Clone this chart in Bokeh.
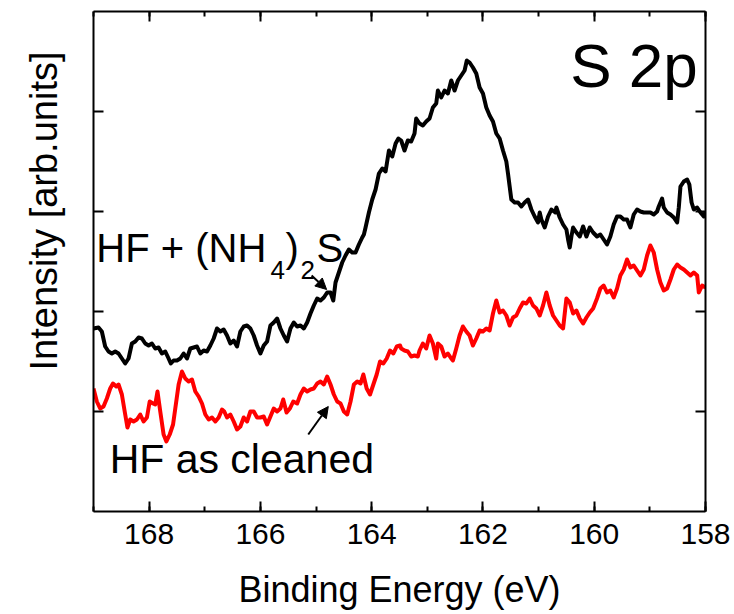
import math
from bokeh.plotting import figure
from bokeh.models import (Range1d, LinearAxis, SingleIntervalTicker, FixedTicker,
                          Label, Arrow, NormalHead, Title, CustomLabelingPolicy)
from bokeh.embed import file_html
from bokeh.resources import INLINE

# ---------------- data ----------------
black_ev = [169.00,168.91,168.85,168.79,168.73,168.67,168.61,168.55,168.49,168.43,
            168.37,168.31,168.25,168.19,168.13,168.07,168.01,167.95,167.89,167.83,
            167.77,167.71,167.65,167.61,167.56,167.50,167.44,167.38,167.32,167.26,
            167.20,167.14,167.08,167.02,166.96,166.90,166.84,166.78,166.72,166.66,
            166.60,166.54,166.48,166.42,166.36,166.30,166.24,166.18,166.12,166.06,
            166.00,165.94,165.88,165.82,165.76,165.70,165.64,165.58,165.52,165.46,
            165.40,165.34,165.28,165.22,165.16,165.10,165.04,164.98,164.92,164.86,
            164.80,164.74,164.69,164.65,164.59,164.53,164.47,164.41,164.35,164.29,
            164.23,164.17,164.14,164.11,164.05,163.99,163.93,163.87,163.81,163.75,
            163.69,163.63,163.57,163.52,
            163.47,163.41,163.35,163.29,163.23,163.20,163.14,163.08,163.02,162.96,
            162.90,162.84,162.81,162.75,162.69,162.63,162.57,162.51,162.45,162.39,
            162.33,162.29,162.24,162.18,162.12,162.06,162.00,161.94,161.88,161.82,
            161.76,161.70,161.64,161.58,161.55,161.52,161.49,161.43,161.37,161.31,
            161.25,161.19,161.13,161.07,161.01,160.98,160.95,160.89,160.83,160.77,
            160.70,160.68,160.62,160.56,160.50,160.47,160.44,160.41,160.38,160.32,
            160.26,160.20,160.14,160.08,160.02,159.95,159.89,159.83,159.77,159.71,
            159.65,159.59,159.53,159.47,159.41,159.35,159.29,159.23,159.17,159.11,
            159.05,158.99,158.93,158.87,158.84,158.78,158.75,158.69,158.63,158.57,
            158.51,158.48,158.45,158.39,158.33,158.29,158.25,158.21,158.15,158.09,
            158.03,158.00]
black_int = [1.83,1.84,1.80,1.65,1.60,1.58,1.60,1.58,1.53,1.48,
             1.53,1.68,1.70,1.74,1.73,1.68,1.66,1.68,1.63,1.64,
             1.58,1.60,1.53,1.48,1.51,1.51,1.53,1.58,1.53,1.63,
             1.64,1.65,1.58,1.61,1.60,1.66,1.73,1.83,1.80,1.82,
             1.76,1.68,1.71,1.65,1.80,1.85,1.86,1.83,1.76,1.66,
             1.58,1.66,1.70,1.86,1.89,1.93,1.83,1.76,1.70,1.83,
             1.89,1.85,1.86,1.83,1.89,1.98,2.06,2.13,2.11,2.14,
             2.19,2.19,2.11,2.29,2.39,2.49,2.56,2.62,2.59,2.59,
             2.67,2.74,2.77,2.84,2.99,3.12,3.22,3.38,3.43,3.40,
             3.61,3.55,3.68,3.73,
             3.71,3.61,3.71,3.70,3.78,3.93,3.88,3.86,3.90,3.93,
             4.04,4.08,4.21,4.14,4.21,4.18,4.31,4.21,4.31,4.36,
             4.41,4.51,4.49,4.44,4.38,4.24,4.18,4.04,3.96,3.90,
             3.78,3.73,3.61,3.50,3.38,3.25,3.12,3.09,3.09,3.05,
             3.09,3.12,3.02,2.95,2.89,2.99,2.92,2.84,2.95,3.02,
             2.99,3.04,2.94,2.87,2.82,2.72,2.64,2.75,2.84,2.79,
             2.75,2.85,2.75,2.84,2.79,2.75,2.77,2.72,2.67,2.75,
             2.87,2.95,2.95,2.92,2.92,2.84,2.97,3.02,3.00,2.99,
             2.99,2.99,2.97,3.00,3.05,3.13,3.04,2.99,2.97,2.94,
             2.89,3.04,3.25,3.30,3.32,3.27,3.09,3.02,3.04,2.99,
             2.95,3.00]

red_ev = [169.00,168.94,168.88,168.82,168.76,168.70,168.65,168.59,168.55,168.49,
          168.43,168.39,168.34,168.28,168.22,168.16,168.10,168.04,167.99,167.93,
          167.89,167.85,167.80,167.74,167.69,167.63,167.57,167.53,167.47,167.41,
          167.35,167.29,167.23,167.17,167.11,167.05,166.99,166.93,166.87,166.81,
          166.75,166.69,166.65,166.60,166.54,166.48,166.42,166.36,166.30,166.24,
          166.18,166.12,166.06,166.00,165.94,165.88,165.82,165.76,165.70,165.64,
          165.59,165.53,165.47,165.41,165.34,165.28,165.22,165.16,165.10,165.04,
          164.98,164.92,164.86,164.80,164.74,164.68,164.62,164.56,164.50,164.44,
          164.38,164.32,164.26,164.20,164.15,164.09,164.03,163.97,163.91,163.85,
          163.79,163.73,163.67,163.61,163.55,163.49,
          163.47,163.41,163.35,163.29,163.23,163.17,163.14,163.08,163.02,162.96,
          162.90,162.84,162.81,162.75,162.69,162.63,162.57,162.54,162.48,162.42,
          162.36,162.30,162.24,162.18,162.12,162.06,162.00,161.94,161.88,161.82,
          161.76,161.70,161.64,161.58,161.52,161.46,161.40,161.34,161.28,161.22,
          161.16,161.10,161.04,160.98,160.92,160.86,160.80,160.74,160.68,160.62,
          160.56,160.50,160.44,160.38,160.32,160.26,160.20,160.14,160.08,160.02,
          159.95,159.89,159.83,159.77,159.71,159.65,159.59,159.53,159.47,159.41,
          159.35,159.29,159.23,159.17,159.11,159.05,158.99,158.93,158.87,158.81,
          158.75,158.69,158.63,158.57,158.51,158.45,158.39,158.33,158.27,158.21,
          158.15,158.12,158.06,158.00]
red_int = [1.23,1.10,1.03,1.05,1.13,1.23,1.28,1.25,1.27,1.17,
           0.97,0.84,0.92,0.90,0.92,0.97,0.90,0.94,1.10,1.08,
           1.07,1.20,1.00,0.77,0.70,0.77,0.87,1.03,1.27,1.40,
           1.33,1.30,1.32,1.20,1.15,1.08,0.97,0.92,0.94,0.90,
           0.94,1.02,1.00,0.94,0.97,0.90,0.82,0.85,0.94,0.90,
           1.00,1.00,0.94,0.94,0.95,0.87,0.95,1.03,1.00,1.03,
           1.12,0.99,1.03,1.10,1.08,1.17,1.23,1.20,1.22,1.23,
           1.28,1.30,1.27,1.35,1.27,1.17,1.10,1.08,1.00,0.97,
           1.10,1.27,1.30,1.28,1.37,1.23,1.17,1.27,1.37,1.50,
           1.48,1.53,1.61,1.58,1.65,1.66,
           1.63,1.61,1.60,1.55,1.56,1.55,1.61,1.68,1.63,1.76,
           1.68,1.53,1.68,1.65,1.55,1.58,1.53,1.51,1.63,1.76,
           1.85,1.80,1.76,1.66,1.73,1.81,1.80,1.83,1.81,1.98,
           2.11,1.99,2.01,1.96,1.86,1.94,1.96,2.03,2.09,2.08,
           2.13,2.06,2.03,1.96,2.06,2.19,2.06,1.96,1.91,1.86,
           1.83,2.13,2.09,1.98,2.01,1.93,1.88,1.94,1.99,2.03,
           2.13,2.23,2.26,2.19,2.21,2.14,2.23,2.36,2.42,2.52,
           2.44,2.46,2.41,2.36,2.42,2.56,2.66,2.59,2.42,2.29,
           2.21,2.23,2.32,2.42,2.47,2.44,2.42,2.39,2.36,2.39,
           2.36,2.19,2.26,2.24]

x_ticks = [168, 166, 164, 162, 160, 158]
y_ticks = [1, 2, 3, 4]

FONT = "Liberation Sans"

p = figure(width=734, height=614, output_backend="svg", toolbar_location=None,
           x_range=Range1d(169, 158), y_range=Range1d(0, 5),
           x_axis_location=None, y_axis_location=None,
           min_border_left=93, min_border_right=29, min_border_top=7, min_border_bottom=103)
p.xgrid.visible = False
p.ygrid.visible = False
p.outline_line_color = None
p.background_fill_color = "white"
p.border_fill_color = "white"

no_labels = CustomLabelingPolicy(code="return new Set()")

def style_axis(ax, xaxis, labels):
    if xaxis:
        ax.ticker = SingleIntervalTicker(interval=2, num_minor_ticks=2)
    else:
        ax.ticker = FixedTicker(ticks=y_ticks, minor_ticks=[])
    ax.axis_line_width = 2
    ax.axis_line_color = "black"
    ax.major_tick_line_width = 2
    ax.minor_tick_line_width = 2
    ax.major_tick_in = 10
    ax.major_tick_out = 0
    ax.minor_tick_in = 5
    ax.minor_tick_out = 0
    if labels:
        ax.major_label_text_font = FONT
        ax.major_label_text_font_size = "30px"
        ax.major_label_text_color = "black"
        ax.major_label_standoff = 12
    else:
        ax.major_label_policy = no_labels
        ax.major_label_standoff = 0

bottom = LinearAxis(axis_label="Binding Energy (eV)")
style_axis(bottom, True, True)
bottom.axis_label_text_font = FONT
bottom.axis_label_text_font_size = "36px"
bottom.axis_label_text_font_style = "normal"
bottom.axis_label_text_color = "black"
bottom.axis_label_standoff = 22
p.add_layout(bottom, "below")

top = LinearAxis()
style_axis(top, True, False)
p.add_layout(top, "above")

left = LinearAxis()
style_axis(left, False, False)
p.add_layout(left, "left")

right = LinearAxis()
style_axis(right, False, False)
p.add_layout(right, "right")

# y-axis title as a left-side title so it can be shifted along the axis
ytitle = Title(text="Intensity [arb.units]", align="right", offset=40,
               text_font=FONT, text_font_size="38px", text_font_style="normal",
               text_color="black", standoff=39)
p.add_layout(ytitle, "left")

p.line(black_ev, black_int, line_color="black", line_width=4, line_join="round")
p.line(red_ev, red_int, line_color="#ff0000", line_width=4, line_join="round")

def lab(x, y, text, size, align="left"):
    p.add_layout(Label(x=x, y=y, text=text, text_font=FONT, text_font_size=size,
                       text_color="black", text_align=align, text_baseline="alphabetic"))

# panel title
lab(158.14, 4.46, "S 2p", "62px", align="right")
# HF + (NH4)2S
lab(168.95, 2.64, "HF + (NH", "40px")
lab(165.82, 2.42, "4", "26px")
lab(165.55, 2.64, ")", "40px")
lab(165.28, 2.42, "2", "26px")
lab(164.99, 2.64, "S", "40px")
# HF as cleaned
lab(168.71, 0.53, "HF as cleaned", "41px")

p.add_layout(Arrow(x_start=165.08, y_start=2.36, x_end=164.81, y_end=2.22,
                   line_width=2, line_color="black",
                   end=NormalHead(size=11, fill_color="black", line_color="black")))
p.add_layout(Arrow(x_start=165.14, y_start=0.77, x_end=164.78, y_end=1.05,
                   line_width=2, line_color="black",
                   end=NormalHead(size=11, fill_color="black", line_color="black")))

open("out.html", "w").write(file_html(p, INLINE))
